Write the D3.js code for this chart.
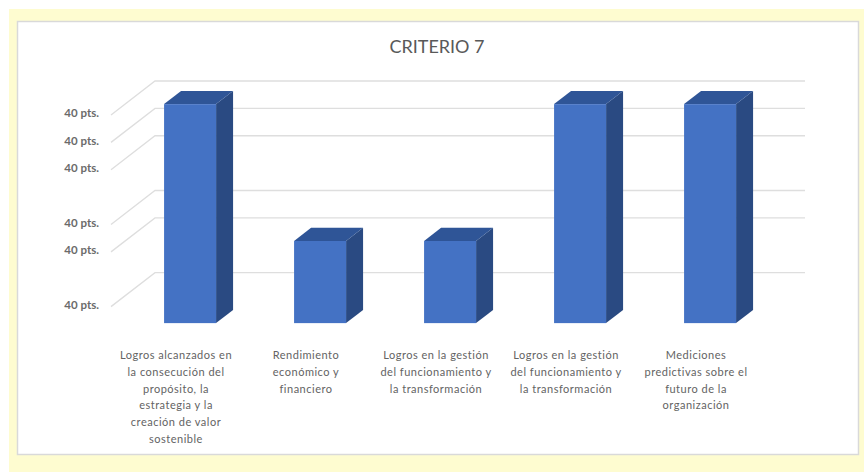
<!DOCTYPE html>
<html>
<head>
<meta charset="utf-8">
<script src="https://cdn.jsdelivr.net/npm/d3@7"></script>
<style>
  html, body { margin: 0; padding: 0; background: #ffffff; }
  svg { display: block; }
  text { font-family: Lato, "Open Sans", "DejaVu Sans", sans-serif; }
</style>
</head>
<body>
<svg id="chart" width="864" height="472"></svg>
<script>
// Chart data
const title = "CRITERIO 7";
const categories = [
  "Logros alcanzados en\nla consecución del\npropósito, la\nestrategia y la\ncreación de valor\nsostenible",
  "Rendimiento\neconómico y\nfinanciero",
  "Logros en la gestión\ndel funcionamiento y\nla transformación",
  "Logros en la gestión\ndel funcionamiento y\nla transformación",
  "Mediciones\npredictivas sobre el\nfuturo de la\norganización"
];
const values = [8, 3, 3, 8, 8];
const tickValues = [1, 3, 4, 6, 7, 8];
const tickLabels = ["40 pts.", "40 pts.", "40 pts.", "40 pts.", "40 pts.", "40 pts."];

const svg = d3.select("#chart");

// Frame: pale yellow surround and white plot card
svg.append("rect").attr("x", 9).attr("y", 9).attr("width", 855).attr("height", 463)
  .attr("fill", "#fefcd0");
svg.append("rect").attr("x", 17.5).attr("y", 21.5).attr("width", 841).attr("height", 433)
  .attr("fill", "#ffffff").attr("stroke", "#d9d9d9").attr("stroke-width", 1.5);

// Title
svg.append("text")
  .attr("x", 437).attr("y", 53)
  .attr("text-anchor", "middle")
  .attr("font-size", 18)
  .attr("fill", "#595959")
  .text(title);

// Oblique 3D projection: full depth shifts points right and up
const depthDx = 44, depthDy = 34;
const x = d3.scaleBand().domain(d3.range(categories.length)).range([111, 761]).padding(0);
const y = d3.scaleLinear().domain([0, 8]).range([334, 115]);

// Gridlines: diagonal on the side wall, horizontal on the back wall
const grid = svg.append("g").attr("stroke", "#dedede").attr("stroke-width", 1.3).attr("fill", "none");
tickValues.forEach(v => {
  const yf = y(v);
  grid.append("path")
    .attr("d", `M${x.range()[0]},${yf} L${x.range()[0] + depthDx},${yf - depthDy} L${x.range()[1] + depthDx},${yf - depthDy}`);
});

// Value axis labels at the front end of each gridline
const yAxis = d3.axisLeft(y)
  .tickValues(tickValues)
  .tickSize(0)
  .tickPadding(0)
  .tickFormat((d, i) => tickLabels[i]);
const gy = svg.append("g").attr("transform", "translate(99,-2)").call(yAxis);
gy.select(".domain").remove();
gy.selectAll("text")
  .attr("font-family", "Lato, 'Open Sans', sans-serif")
  .attr("font-size", 11.5)
  .attr("font-weight", "bold")
  .attr("fill", "#6b6b6b");

// Bars as 3D boxes
const zFront = 0.32, zBack = zFront + 17 / depthDx;
const barW = x.bandwidth() * 0.4;
const bars = svg.append("g");
values.forEach((v, i) => {
  const x0 = x(i) + (x.bandwidth() - barW) / 2 + zFront * depthDx;
  const x1 = x0 + barW;
  const ddx = (zBack - zFront) * depthDx, ddy = (zBack - zFront) * depthDy;
  const yb = y(0) - zFront * depthDy;
  const yt = y(v) - zFront * depthDy;
  // side face
  bars.append("path")
    .attr("d", `M${x1},${yt} L${x1 + ddx},${yt - ddy} L${x1 + ddx},${yb - ddy} L${x1},${yb} Z`)
    .attr("fill", "#2a4a82");
  // top face
  bars.append("path")
    .attr("d", `M${x0},${yt} L${x0 + ddx},${yt - ddy} L${x1 + ddx},${yt - ddy} L${x1},${yt} Z`)
    .attr("fill", "#2f5597");
  // front face
  bars.append("rect")
    .attr("x", x0).attr("y", yt)
    .attr("width", barW).attr("height", yb - yt)
    .attr("fill", "#4472c4");
});

// Category axis with wrapped labels
const xAxis = d3.axisBottom(x).tickSize(0).tickFormat("");
const gx = svg.append("g").attr("transform", "translate(0,334)").call(xAxis);
gx.select(".domain").remove();
gx.selectAll(".tick").each(function(d) {
  const t = d3.select(this).append("text")
    .attr("text-anchor", "middle")
    .attr("font-size", 11)
    .attr("letter-spacing", 0.5)
    .attr("fill", "#636363")
    .attr("y", 25);
  categories[d].split("\n").forEach((line, k) => {
    t.append("tspan").attr("x", 0).attr("dy", k === 0 ? 0 : 16.8).text(line);
  });
});
</script>
</body>
</html>
